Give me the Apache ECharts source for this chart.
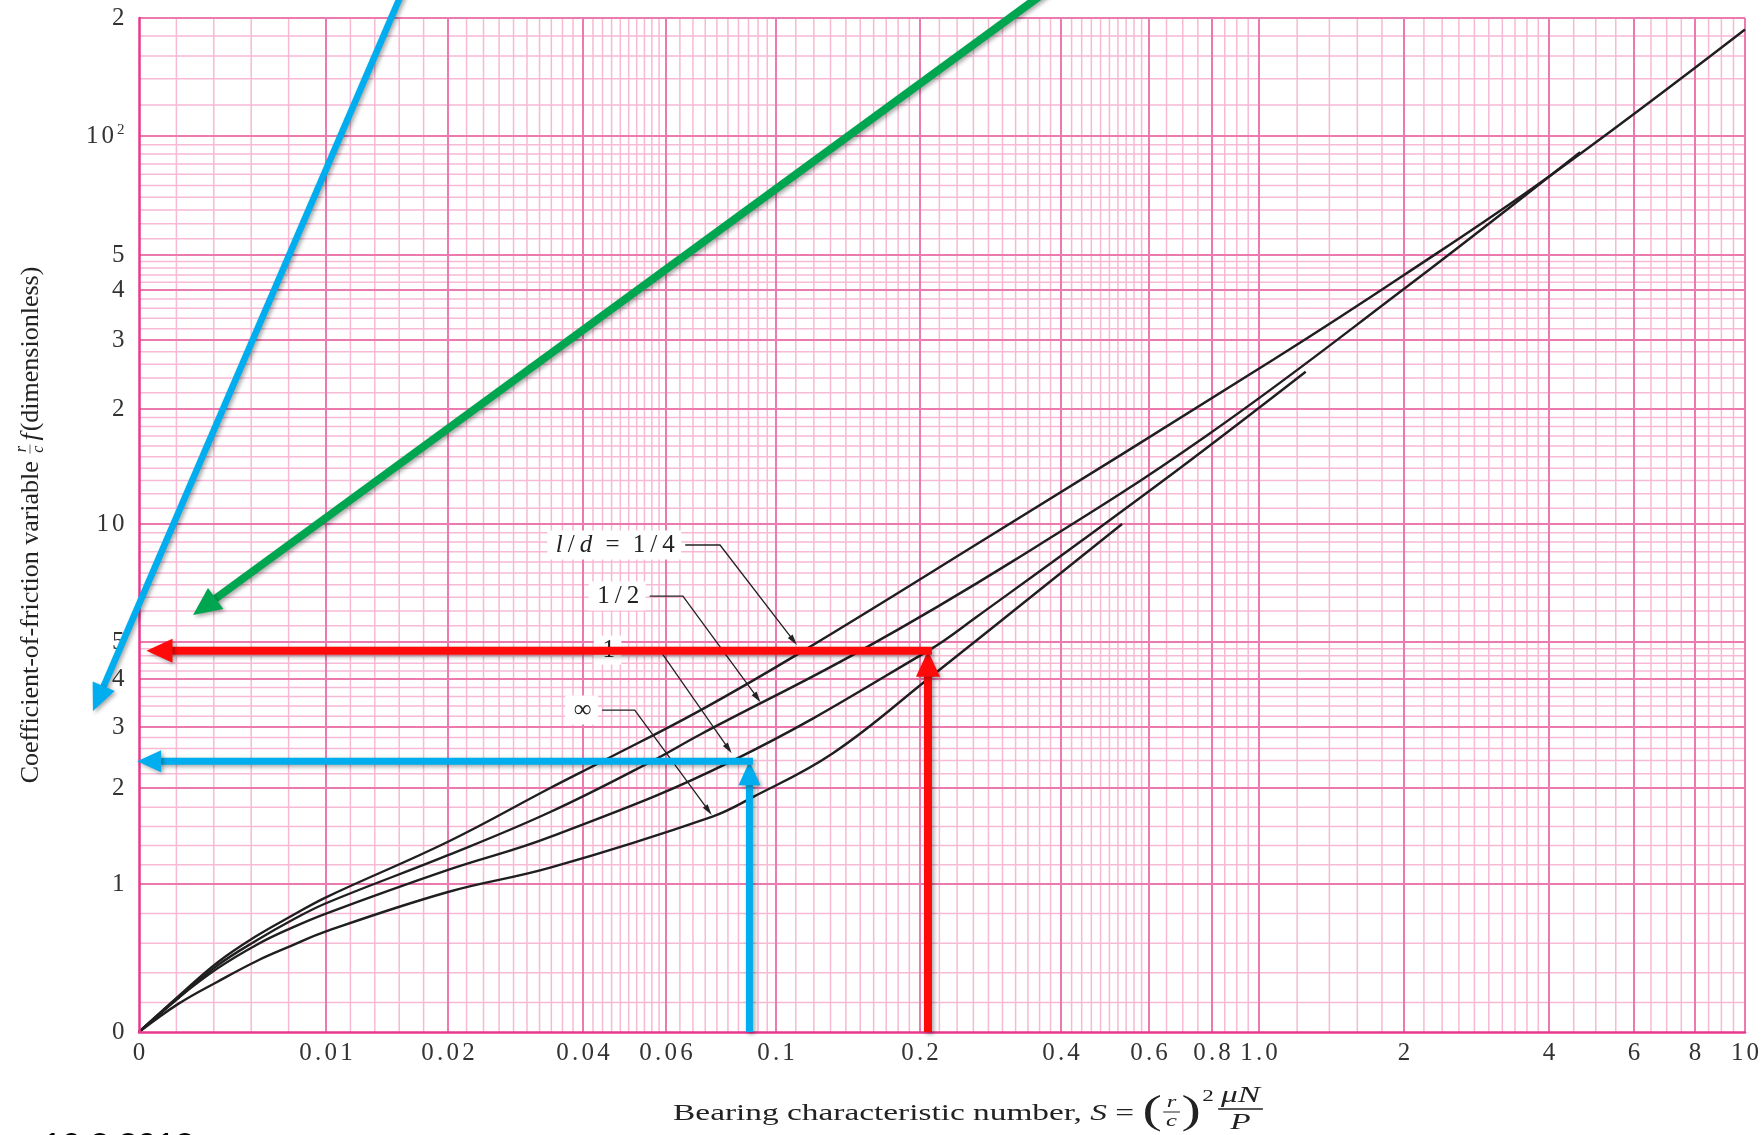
<!DOCTYPE html>
<html><head><meta charset="utf-8">
<script src="https://cdn.jsdelivr.net/npm/echarts@6/dist/echarts.min.js"></script>
<style>html,body{margin:0;padding:0;background:#fff}#c{width:1763px;height:1135px}</style>
</head><body><div id="c"></div>
<script>
// ---------------- data ----------------
const X_TICKS = [0, 0.01, 0.02, 0.04, 0.06, 0.1, 0.2, 0.4, 0.6, 0.8, 1, 2, 4, 6, 8, 10];
const X_TICK_LABELS = ['0','0.01','0.02','0.04','0.06','0.1','0.2','0.4','0.6','0.8','1.0','2','4','6','8','10'];
const Y_TICKS = [0, 1, 2, 3, 4, 5, 10, 20, 30, 40, 50, 100, 200];
const Y_TICK_LABELS = ['0','1','2','3','4','5','10','2','3','4','5','10²','2'];

// bearing characteristic number S and friction variable (r/c) f for each l/d curve
const S_QUARTER = [0, 0.0021, 0.0042, 0.0063, 0.0081, 0.01, 0.02, 0.0338, 0.044, 0.0705, 0.114, 0.261, 1.07, 2, 4, 10];
const F_QUARTER = [0, 0.24, 0.47, 0.65, 0.78, 0.91, 1.44, 2.0, 2.39, 3.32, 4.74, 8.8, 26.7, 44, 79, 187];
const S_HALF = [0, 0.0021, 0.0042, 0.0063, 0.0081, 0.01, 0.02, 0.0338, 0.056, 0.0705, 0.15, 0.319, 0.779, 2.03, 4.64];
const F_HALF = [0, 0.23, 0.45, 0.62, 0.75, 0.87, 1.30, 1.75, 2.39, 2.86, 4.74, 8.1, 17.0, 40.9, 91];
const S_ONE = [0, 0.0021, 0.0042, 0.0063, 0.0081, 0.01, 0.02, 0.0338, 0.0818, 0.208, 0.264, 0.631, 1.25];
const F_ONE = [0, 0.23, 0.43, 0.59, 0.70, 0.80, 1.146, 1.49, 2.40, 4.74, 5.79, 12.8, 24.9];
const S_INF = [0, 0.0021, 0.0042, 0.0063, 0.0081, 0.01, 0.02, 0.0338, 0.0742, 0.0894, 0.1315, 0.208, 0.53];
const F_INF = [0, 0.19, 0.34, 0.48, 0.58, 0.68, 0.946, 1.17, 1.70, 1.9, 2.52, 4.0, 10];

// annotation arrows (S, f)
const RED_UP = [[0.208, 0], [0.208, 4.74]];
const RED_LEFT = [[0.208, 4.74], [0.0004, 4.74]];
const BLUE_UP = [[0.0884, 0], [0.0884, 2.39]];
const BLUE_LEFT = [[0.0884, 2.39], [-0.0001, 2.39]];
const BLUE_DIAG = [[0.01738, 281], [-0.00246, 3.30]];
const GREEN_DIAG = [[0.455, 281], [0.00289, 5.86]];

// curve labels and their leader lines (S, f)
const LABEL_TEXTS = ['l/d = 1/4', '1/2', '1', '∞'];
const LEADER_QUARTER = [[0.0656, 8.84], [0.0771, 8.84], [0.1106, 4.91]];
const LEADER_HALF = [[0.0554, 6.55], [0.0649, 6.55], [0.0931, 3.48]];
const LEADER_ONE = [[0.0492, 4.76], [0.0582, 4.76], [0.0814, 2.52]];
const LEADER_INF = [[0.0439, 3.32], [0.0515, 3.32], [0.0742, 1.72]];

// ---------------- chart-paper scale (piecewise log, linear near zero) ----------------
const X_KNOT_VAL = [0, 0.01, 0.02, 0.04, 0.06, 0.1, 0.2, 0.4, 0.6, 0.8, 1, 2, 4, 6, 8, 10];
const X_KNOT_POS = [0, 187, 309, 444, 527, 637, 781, 922, 1010, 1073, 1120, 1265, 1410, 1495, 1556, 1606];
const Y_KNOT_VAL = [0, 1, 2, 3, 4, 5, 10, 20, 30, 40, 50, 100, 200];
const Y_KNOT_POS = [0, 148, 244, 305, 353, 390, 508, 623, 692, 742, 777, 896, 1014];
function piece(v, vals, pos, linTop) {
  let i = 0;
  while (i < vals.length - 2 && v > vals[i + 1]) i++;
  const a = vals[i], b = vals[i + 1];
  const t = (b <= linTop) ? (v - a) / (b - a) : Math.log(v / a) / Math.log(b / a);
  return pos[i] + t * (pos[i + 1] - pos[i]);
}
const Tx = v => piece(v, X_KNOT_VAL, X_KNOT_POS, 0.02);
const Ty = v => piece(v, Y_KNOT_VAL, Y_KNOT_POS, 2);
const XMAX = X_KNOT_POS[X_KNOT_POS.length - 1], YMAX = Y_KNOT_POS[Y_KNOT_POS.length - 1];

// grid-paper rulings
const X_MINOR_STEPS = [[0, 0.02, 0.002], [0.02, 0.06, 0.002], [0.06, 0.1, 0.004], [0.1, 0.2, 0.01], [0.2, 0.6, 0.02], [0.6, 1, 0.05], [1, 4, 0.2], [4, 10, 0.5]];
const X_MAJOR = [0.01, 0.02, 0.04, 0.06, 0.1, 0.2, 0.4, 0.6, 0.8, 1, 2, 4, 6, 8, 10];
const Y_MINOR_STEPS = [[0, 5, 0.2], [5, 10, 0.5], [10, 20, 1], [20, 50, 2], [50, 100, 5], [100, 200, 20]];
const Y_MAJOR = [1, 2, 3, 4, 5, 10, 20, 30, 40, 50, 100, 200];

const GRID_LINES = [];
function addMinor(steps, majors, dir) {
  steps.forEach(([a, b, s]) => {
    for (let k = 1; a + k * s < b - s / 2; k++) {
      const v = Math.round((a + k * s) * 1e6) / 1e6;
      if (!majors.some(m => Math.abs(m - v) < 1e-9)) GRID_LINES.push({dir, v, major: false});
    }
  });
}
addMinor(X_MINOR_STEPS, X_MAJOR, 'x');
addMinor(Y_MINOR_STEPS, Y_MAJOR, 'y');
X_MAJOR.forEach(v => GRID_LINES.push({dir: 'x', v, major: true}));
Y_MAJOR.forEach(v => GRID_LINES.push({dir: 'y', v, major: true}));

const RED = '#ff0a0a', BLUE = '#00aeef', GREEN = '#00a64f';
const ARROWS = [
  {pts: RED_UP, color: RED, w: 8, hl: 26, hw: 24, shadow: true},
  {pts: RED_LEFT, color: RED, w: 8, hl: 26, hw: 24, shadow: true, ext: 4},
  {pts: BLUE_UP, color: BLUE, w: 7, hl: 24, hw: 22, shadow: true},
  {pts: BLUE_LEFT, color: BLUE, w: 7, hl: 24, hw: 22, shadow: true, ext: 3.5},
  {pts: BLUE_DIAG, color: BLUE, w: 6.5, hl: 27, hw: 24, shadow: true},
  {pts: GREEN_DIAG, color: GREEN, w: 8, hl: 28, hw: 26, shadow: true}
];
const LEADERS = [LEADER_QUARTER, LEADER_HALF, LEADER_ONE, LEADER_INF];

// ---------------- helpers ----------------
const SERIF = '"Liberation Serif", "Times New Roman", serif';
const mctx = document.createElement('canvas').getContext('2d');
function tw(t, font) { mctx.font = font; return mctx.measureText(t).width; }

// letter-spaced rich text: every character becomes its own token
function spaced(text, italic) {
  let out = '';
  for (const ch of text) {
    if (ch === '²') out += '{sup|2}';
    else if (ch === ' ') out += '{sp| }';
    else out += (italic && italic.indexOf(ch) >= 0 ? '{i|' : '{c|') + ch + '}';
  }
  return out;
}

function arrowShape(px, o) {
  const n = px.length, tip = px[n - 1], prev = px[n - 2];
  let dx = tip[0] - prev[0], dy = tip[1] - prev[1];
  const L = Math.hypot(dx, dy); dx /= L; dy /= L;
  const base = [tip[0] - dx * o.hl, tip[1] - dy * o.hl];
  const lineEnd = [tip[0] - dx * (o.hl - 2), tip[1] - dy * (o.hl - 2)];
  const pts = px.slice(0, n - 1).map(p => p.slice());
  if (o.ext) {
    const p0 = pts[0], p1 = pts.length > 1 ? pts[1] : lineEnd;
    const ex = p1[0] - p0[0], ey = p1[1] - p0[1], l = Math.hypot(ex, ey);
    pts[0] = [p0[0] - ex / l * o.ext, p0[1] - ey / l * o.ext];
  }
  pts.push(lineEnd);
  const nx = -dy, ny = dx;
  const head = [tip, [base[0] + nx * o.hw / 2, base[1] + ny * o.hw / 2], [base[0] - nx * o.hw / 2, base[1] - ny * o.hw / 2]];
  const sh = o.shadow ? {shadowBlur: 4, shadowColor: 'rgba(0,0,0,0.35)', shadowOffsetX: 2, shadowOffsetY: 2} : {};
  return {type: 'group', children: [
    {type: 'polyline', shape: {points: pts}, style: Object.assign({stroke: o.color, lineWidth: o.w, fill: null, lineCap: 'butt', lineJoin: 'miter'}, sh)},
    {type: 'polygon', shape: {points: head}, style: Object.assign({fill: o.color}, sh)}
  ]};
}

function curveSeries(name, S, F) {
  return {
    name, type: 'line', z: 3, silent: true, showSymbol: false, symbol: 'none',
    smooth: 0.4,
    lineStyle: {color: '#1f1f1f', width: 2.4},
    data: S.map((s, i) => [Tx(s), Ty(F[i])])
  };
}

// ---------------- titles ----------------
function buildXTitle() {
  const F = 23;
  const fN = F + 'px ' + SERIF, fI = 'italic ' + F + 'px ' + SERIF, fSm = 'italic 17px ' + SERIF,
        fP = '40px ' + SERIF, fSup = '16px ' + SERIF, fF = 'italic 23px ' + SERIF;
  const yM = 1114;
  const parts = [];
  const p1 = 'Bearing characteristic number, ';
  const w1 = tw(p1, fN), wS = tw('S', fI), wEq = tw(' = ', fN), wPar = tw('(', fP),
        wFr1 = Math.max(tw('r', fSm), tw('c', fSm)) + 6, wSup = tw('2', fSup) + 4,
        wFr2 = Math.max(tw('\u03bcN', fF), tw('P', fF)) + 4;
  const W = w1 + wS + wEq + wPar + wFr1 + wPar + wSup + wFr2;
  let x = -W / 2;
  const T = (text, font, xx, yy, align) => ({type: 'text', x: xx, y: yy, style: {text, font, fill: '#222', align: align || 'left', verticalAlign: 'middle', textAlign: align || 'left', textVerticalAlign: 'middle'}});
  parts.push(T(p1, fN, x, 0)); x += w1;
  parts.push(T('S', fI, x, 0)); x += wS;
  parts.push(T(' = ', fN, x, 0)); x += wEq;
  parts.push(T('(', fP, x, -2)); x += wPar;
  parts.push(T('r', fSm, x + wFr1 / 2, -11, 'center'));
  parts.push({type: 'line', shape: {x1: x + 1, y1: -2, x2: x + wFr1 - 1, y2: -2}, style: {stroke: '#222', lineWidth: 1}});
  parts.push(T('c', fSm, x + wFr1 / 2, 8, 'center')); x += wFr1;
  parts.push(T(')', fP, x, -2)); x += wPar;
  parts.push(T('2', fSup, x + 1, -17)); x += wSup;
  parts.push(T('\u03bcN', fF, x + wFr2 / 2, -18, 'center'));
  parts.push({type: 'line', shape: {x1: x, y1: -5, x2: x + wFr2, y2: -5}, style: {stroke: '#222', lineWidth: 1.3}});
  parts.push(T('P', fF, x + wFr2 / 2, 9, 'center'));
  const sx = Math.min(1.45, Math.max(1.0, 605 / W));
  return {type: 'group', x: 968, y: yM, scaleX: sx, children: parts};
}
function buildYTitle() {
  const fN = '26px ' + SERIF, fI = 'italic 26px ' + SERIF, fSm = 'italic 16px ' + SERIF;
  const a = 'Coefficient-of-friction variable ';
  const wa = tw(a, fN), wFr = Math.max(tw('r', fSm), tw('c', fSm)) + 4, wf = tw('f', fI) + 2, wd = tw('(dimensionless)', fN);
  const W = wa + wFr + 3 + wf + wd;
  let x = -W / 2;
  const T = (text, font, xx, yy, align) => ({type: 'text', x: xx, y: yy, style: {text, font, fill: '#222', align: align || 'left', verticalAlign: 'middle', textAlign: align || 'left', textVerticalAlign: 'middle'}});
  const parts = [];
  parts.push(T(a, fN, x, 0)); x += wa;
  parts.push(T('r', fSm, x + wFr / 2, -9, 'center'));
  parts.push({type: 'line', shape: {x1: x + 1, y1: -1, x2: x + wFr - 1, y2: -1}, style: {stroke: '#444', lineWidth: 0.8}});
  parts.push(T('c', fSm, x + wFr / 2, 8, 'center')); x += wFr + 3;
  parts.push(T('f', fI, x, 0)); x += wf;
  parts.push(T('(dimensionless)', fN, x, 0));
  return {type: 'group', x: 31, y: 525, rotation: Math.PI / 2, children: parts};
}

// ---------------- option ----------------
const chart = echarts.init(document.getElementById('c'), null, {renderer: 'canvas'});
const tickRich = (size, pad) => ({
  c: {fontSize: size, fontFamily: SERIF, color: '#333', padding: [0, pad, 0, pad]},
  sup: {fontSize: 15, fontFamily: SERIF, color: '#333', padding: [0, pad, 12, pad]}
});
const option = {
  animation: false,
  backgroundColor: '#ffffff',
  grid: {left: 139, right: 18, top: 18, bottom: 103, show: false},
  xAxis: {
    type: 'value', min: 0, max: XMAX, z: 5,
    axisLine: {show: true, onZero: false, lineStyle: {color: '#e8398f', width: 2.5}},
    axisTick: {show: false}, splitLine: {show: false},
    axisLabel: {
      customValues: X_TICKS.map(Tx), margin: 9, fontSize: 25, fontFamily: SERIF, color: '#333',
      rich: tickRich(25, 1.6),
      formatter: val => { const i = X_TICKS.findIndex(t => Math.abs(Tx(t) - val) < 0.01); return i >= 0 ? spaced(X_TICK_LABELS[i]) : ''; }
    }
  },
  yAxis: {
    type: 'value', min: 0, max: YMAX, z: 5,
    axisLine: {show: true, onZero: false, lineStyle: {color: '#e8398f', width: 2.5}},
    axisTick: {show: false}, splitLine: {show: false},
    axisLabel: {
      customValues: Y_TICKS.map(Ty), margin: 13, fontSize: 25, fontFamily: SERIF, color: '#333',
      rich: tickRich(25, 1.5),
      formatter: val => { const i = Y_TICKS.findIndex(t => Math.abs(Ty(t) - val) < 0.01); return i >= 0 ? spaced(Y_TICK_LABELS[i]) : ''; }
    }
  },
  series: [
    {
      type: 'custom', name: 'paper', z: 1, silent: true, clip: false,
      data: GRID_LINES.map(() => [0, 0]),
      renderItem: (params, api) => {
        const g = GRID_LINES[params.dataIndex];
        let p1, p2;
        if (g.dir === 'x') { p1 = api.coord([Tx(g.v), 0]); p2 = api.coord([Tx(g.v), YMAX]); }
        else { p1 = api.coord([0, Ty(g.v)]); p2 = api.coord([XMAX, Ty(g.v)]); }
        return {type: 'line', shape: {x1: p1[0], y1: p1[1], x2: p2[0], y2: p2[1]},
          style: {stroke: g.major ? '#ec7aaf' : '#f7b9d4', lineWidth: g.major ? 2 : 1.5}};
      }
    },
    curveSeries('l/d = 1/4', S_QUARTER, F_QUARTER),
    curveSeries('l/d = 1/2', S_HALF, F_HALF),
    curveSeries('l/d = 1', S_ONE, F_ONE),
    curveSeries('l/d = ∞', S_INF, F_INF),
    {
      type: 'custom', name: 'labels', z: 4, silent: true, clip: false,
      data: LEADERS.map(() => [0, 0]),
      renderItem: (params, api) => {
        const i = params.dataIndex, L = LEADERS[i];
        const px = L.map(p => api.coord([Tx(p[0]), Ty(p[1])]));
        const arr = arrowShape(px, {color: '#222', w: 1.3, hl: 11, hw: 6});
        arr.children.push({type: 'text', x: px[0][0] - 4, y: px[0][1], z2: 10, style: {
          text: spaced(LABEL_TEXTS[i], 'ld'), fontSize: 25, fontFamily: SERIF, fill: '#222', align: 'right', verticalAlign: 'middle',
          backgroundColor: '#ffffff', padding: [2, 4, 2, 6],
          rich: {
            c: {fontSize: 25, fontFamily: SERIF, fill: '#222', padding: [0, 2.5, 0, 2.5]},
            i: {fontStyle: 'italic', fontSize: 25, fontFamily: SERIF, fill: '#222', padding: [0, 2.5, 0, 2.5]},
            sp: {fontSize: 25, fontFamily: SERIF, fill: '#222', padding: [0, 1, 0, 1]}
          }
        }});
        return arr;
      }
    },
    {
      type: 'custom', name: 'arrows', z: 8, silent: true, clip: false,
      data: ARROWS.map(() => [0, 0]),
      renderItem: (params, api) => {
        const a = ARROWS[params.dataIndex];
        const px = a.pts.map(p => api.coord([Tx(p[0]), Ty(p[1])]));
        return arrowShape(px, a);
      }
    }
  ],
  graphic: [
    buildXTitle(),
    buildYTitle(),
    {type: 'text', x: 43, y: 1147, style: {text: '10.2.2012', font: '34px "Liberation Sans", Arial, sans-serif', fill: '#000', align: 'left', verticalAlign: 'middle', textAlign: 'left', textVerticalAlign: 'middle'}}
  ]
};
chart.setOption(option);
</script>
</body></html>
